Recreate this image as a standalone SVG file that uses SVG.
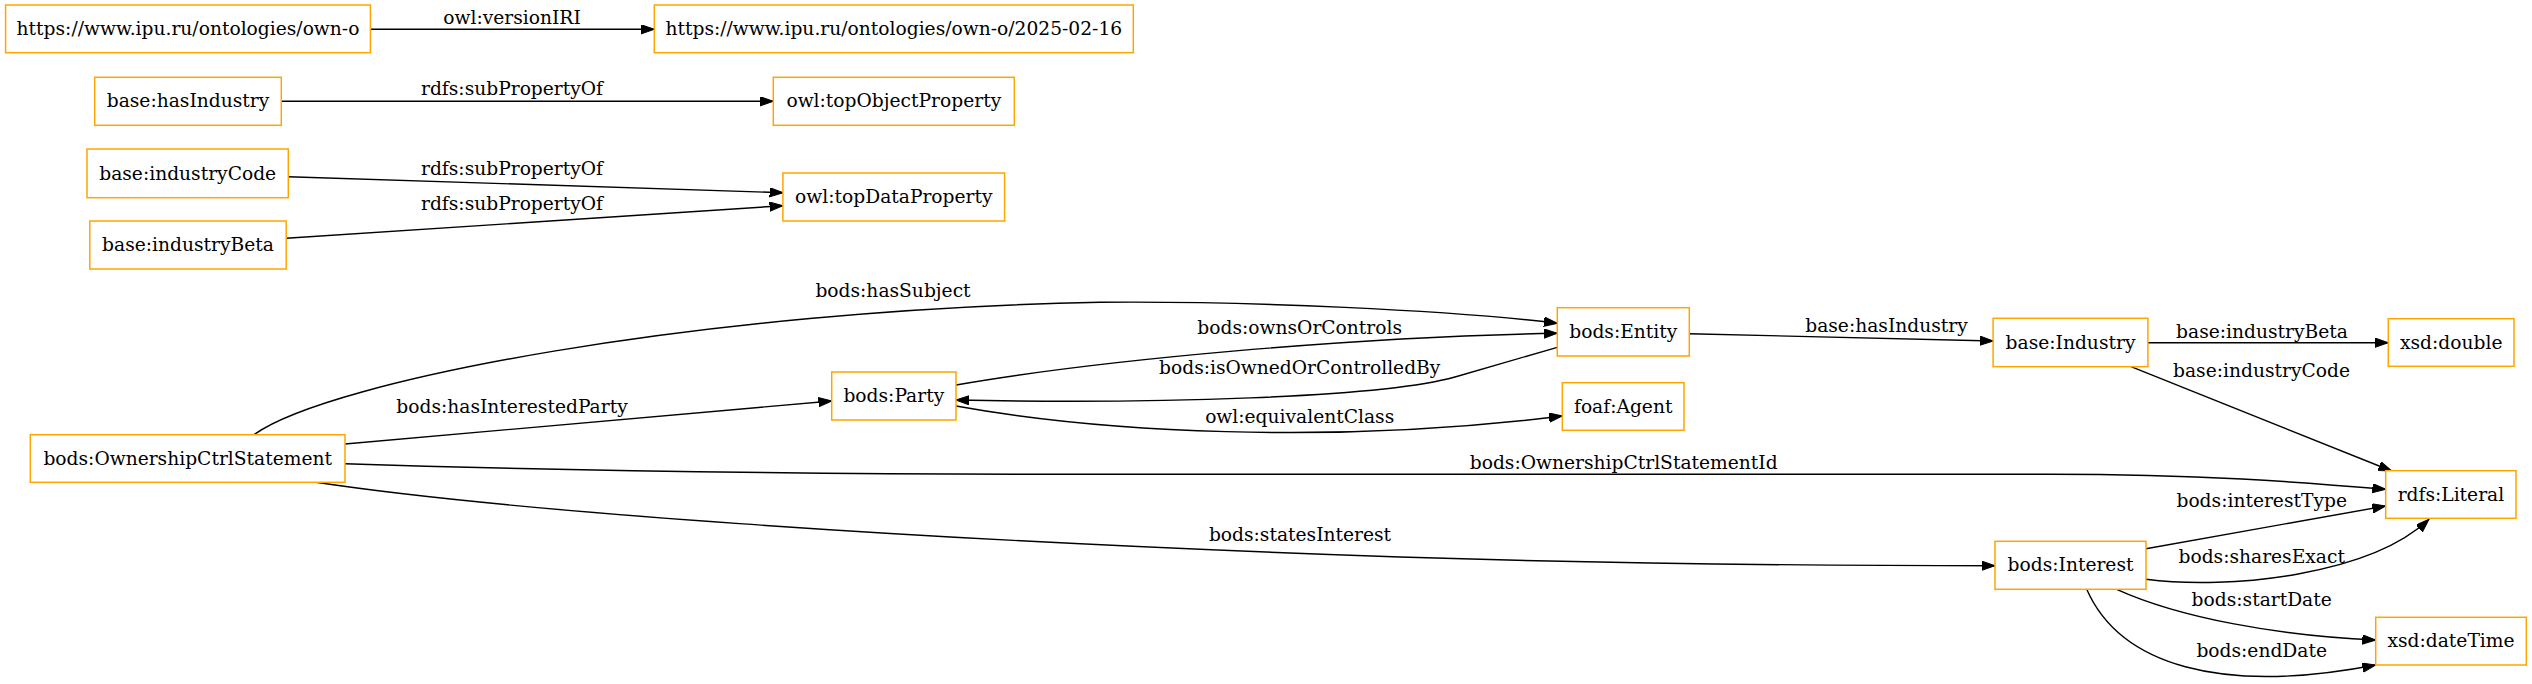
<svg xmlns="http://www.w3.org/2000/svg" width="2532" height="684" viewBox="0 0 2532 684">
<style>
  .node rect { fill: #ffffff; stroke: #ffa500; stroke-width: 1.5; }
  text { font-family: "DejaVu Serif", "Liberation Serif", serif; font-size: 18.67px; fill: #000000; text-anchor: middle; }
  .edge path { fill: none; stroke: #000000; stroke-width: 1.4; marker-end: url(#arrow); }
</style>
<defs>
  <marker id="arrow" markerUnits="userSpaceOnUse" markerWidth="14" markerHeight="10" refX="13.3" refY="4.67" orient="auto" viewBox="0 0 14 10">
    <path d="M0,0 L13.3,4.67 L0,9.33 z" fill="#000000" stroke="#000000" stroke-width="1"/>
  </marker>
</defs>
<rect x="0" y="0" width="2532" height="684" fill="#ffffff"/>

<g id="edges">
  <g class="edge" id="e_versionIRI"><path d="M370.4,29.3 L654.3,29.3"/><text x="512" y="24">owl:versionIRI</text></g>
  <g class="edge" id="e_sub1"><path d="M281.3,101.3 L773.3,101.3"/><text x="512" y="95">rdfs:subPropertyOf</text></g>
  <g class="edge" id="e_sub2"><path d="M288.3,176.7 L782.9,192.7"/><text x="512" y="175">rdfs:subPropertyOf</text></g>
  <g class="edge" id="e_sub3"><path d="M286.2,238.3 L782.9,205.7"/><text x="512" y="210">rdfs:subPropertyOf</text></g>
  <g class="edge" id="e_hasSubject"><path d="M254,434.7 C330,380 700,310 1100,302.3 C1250,301 1450,310 1557.3,323.3"/><text x="893" y="297">bods:hasSubject</text></g>
  <g class="edge" id="e_hasInterestedParty"><path d="M345,444 L831.7,401"/><text x="512" y="412.7">bods:hasInterestedParty</text></g>
  <g class="edge" id="e_ocsId"><path d="M345,463.7 C600,472 900,474.3 1100,474.3 L2050,474.3 C2200,474.3 2300,482 2385.7,489.3"/><text x="1623.7" y="469">bods:OwnershipCtrlStatementId</text></g>
  <g class="edge" id="e_statesInterest"><path d="M316,482.3 C500,510 900,540 1400,557 C1650,565 1850,565.7 1995,565.7"/><text x="1300" y="541">bods:statesInterest</text></g>
  <g class="edge" id="e_ownsOrControls"><path d="M956,385 C1100,360 1350,337 1557.3,333.3"/><text x="1299.7" y="334.3">bods:ownsOrControls</text></g>
  <g class="edge" id="e_isOwnedOrControlledBy"><path d="M1557.3,347.3 L1455,377 C1380,398 1150,404 956,400"/><text x="1299.7" y="374">bods:isOwnedOrControlledBy</text></g>
  <g class="edge" id="e_equivalentClass"><path d="M956,406 C1100,432 1330,445 1562.3,416"/><text x="1299.7" y="423.3">owl:equivalentClass</text></g>
  <g class="edge" id="e_hasIndustry"><path d="M1689.3,333.7 L1993.1,341"/><text x="1886.5" y="331.7">base:hasIndustry</text></g>
  <g class="edge" id="e_industryBeta"><path d="M2148,342.7 L2388.3,342.7"/><text x="2262" y="337.7">base:industryBeta</text></g>
  <g class="edge" id="e_industryCode"><path d="M2131,366.7 L2391.7,471"/><text x="2261.5" y="377.3">base:industryCode</text></g>
  <g class="edge" id="e_interestType"><path d="M2146,548.7 L2385.7,506"/><text x="2261.7" y="507.3">bods:interestType</text></g>
  <g class="edge" id="e_sharesExact"><path d="M2146,579.3 C2230,590 2370,575 2429,519.3"/><text x="2261.7" y="563.3">bods:sharesExact</text></g>
  <g class="edge" id="e_startDate"><path d="M2116.7,589.3 C2180,618 2280,636 2375.7,640"/><text x="2261.7" y="605.7">bods:startDate</text></g>
  <g class="edge" id="e_endDate"><path d="M2086.7,589.3 C2120,665 2220,695 2375.7,665"/><text x="2261.7" y="656.7">bods:endDate</text></g>
</g>

<g class="node" id="n_ownO"><rect x="5.6" y="5" width="364.8" height="47.7"/><text x="188" y="35">https://www.ipu.ru/ontologies/own-o</text></g>
<g class="node" id="n_ownO_version"><rect x="654.3" y="5" width="479" height="47.7"/><text x="893.8" y="35">https://www.ipu.ru/ontologies/own-o/2025-02-16</text></g>
<g class="node" id="n_hasIndustry"><rect x="94.7" y="77.3" width="186.6" height="48"/><text x="188" y="107.3">base:hasIndustry</text></g>
<g class="node" id="n_topObjectProperty"><rect x="773.3" y="77.3" width="241" height="48"/><text x="893.8" y="107.3">owl:topObjectProperty</text></g>
<g class="node" id="n_industryCode"><rect x="87" y="149" width="201.3" height="48.7"/><text x="187.7" y="179.5">base:industryCode</text></g>
<g class="node" id="n_topDataProperty"><rect x="782.9" y="173" width="221.7" height="48"/><text x="893.8" y="203">owl:topDataProperty</text></g>
<g class="node" id="n_industryBeta"><rect x="89.8" y="221" width="196.4" height="48"/><text x="188" y="251">base:industryBeta</text></g>
<g class="node" id="n_OwnershipCtrlStatement"><rect x="30.3" y="434.7" width="314.7" height="47.6"/><text x="187.7" y="464.5">bods:OwnershipCtrlStatement</text></g>
<g class="node" id="n_Party"><rect x="831.7" y="372" width="124.3" height="48"/><text x="893.8" y="402">bods:Party</text></g>
<g class="node" id="n_Entity"><rect x="1557.3" y="307.7" width="132" height="48.3"/><text x="1623.3" y="338">bods:Entity</text></g>
<g class="node" id="n_Agent"><rect x="1562.3" y="382.7" width="121.7" height="47.6"/><text x="1623.2" y="412.5">foaf:Agent</text></g>
<g class="node" id="n_Industry"><rect x="1993.1" y="318.3" width="154.8" height="48.4"/><text x="2070.5" y="348.5">base:Industry</text></g>
<g class="node" id="n_double"><rect x="2388.3" y="318.7" width="125.7" height="47.6"/><text x="2451.2" y="348.5">xsd:double</text></g>
<g class="node" id="n_Literal"><rect x="2385.7" y="470.7" width="130.3" height="47.6"/><text x="2450.9" y="500.5">rdfs:Literal</text></g>
<g class="node" id="n_Interest"><rect x="1995" y="541.3" width="151" height="48"/><text x="2070.5" y="571.3">bods:Interest</text></g>
<g class="node" id="n_dateTime"><rect x="2375.7" y="617.3" width="150.6" height="47.7"/><text x="2451" y="647.2">xsd:dateTime</text></g>
</svg>
